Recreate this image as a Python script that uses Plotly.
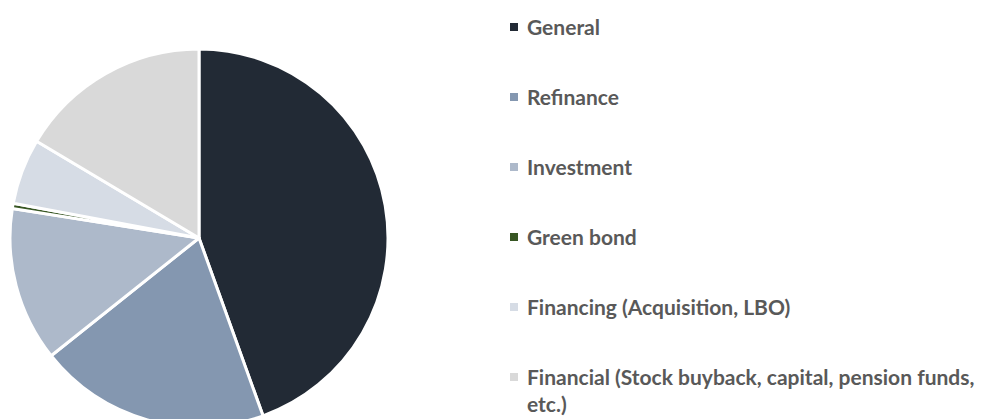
import plotly.graph_objects as go

categories = ["General", "Refinance", "Investment", "Green bond",
              "Financing (Acquisition, LBO)",
              "Financial (Stock buyback, capital, pension funds,<br>etc.)"]
values = [44.5, 19.8, 13.2, 0.45, 5.6, 16.45]
colors = ["#222A35", "#8497B0", "#ADB9CA", "#375623", "#D6DCE5", "#D9D9D9"]

W, H = 1006, 440
cx, cy, r = 199, 238, 189

fig = go.Figure(go.Pie(
    labels=categories, values=values, sort=False, direction="clockwise",
    rotation=0, textinfo="none", hoverinfo="label+percent",
    marker=dict(colors=colors, line=dict(color="white", width=3)),
    domain=dict(x=[(cx - r) / W, (cx + r) / W], y=[(H - cy - r) / H, (H - cy + r) / H]),
    showlegend=False,
))

font = dict(family="Lato, Open Sans, sans-serif", size=21, color="#595959")
shapes, annotations = [], []
for i, (lab, col) in enumerate(zip(categories, colors)):
    yc = 27 + 70 * i
    shapes.append(dict(type="rect", xref="paper", yref="paper",
                       x0=510 / W, x1=518 / W, y0=(H - yc - 4) / H, y1=(H - yc + 4) / H,
                       fillcolor=col, line=dict(width=0)))
    annotations.append(dict(xref="paper", yref="paper", x=525 / W, y=(H - yc + 15) / H,
                            xanchor="left", yanchor="top", align="left", showarrow=False,
                            text="<b>" + lab.replace("<br>", "</b><br><b>") + "</b>", font=font))

fig.update_layout(width=W, height=H, margin=dict(l=0, r=0, t=0, b=0),
                  paper_bgcolor="white", plot_bgcolor="white",
                  shapes=shapes, annotations=annotations)
fig.write_html("out.html", config={"displayModeBar": False},
               post_script="document.body.style.overflow='hidden';document.body.style.margin='0';")
